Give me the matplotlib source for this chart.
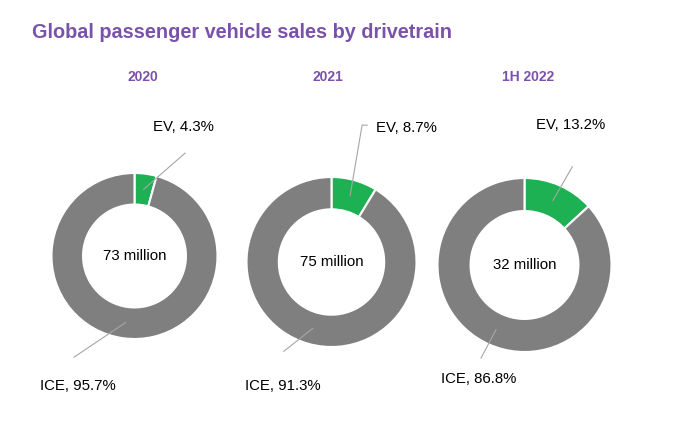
import numpy as np
import matplotlib.pyplot as plt

plt.rcParams['font.family'] = ['Liberation Sans', 'DejaVu Sans']

# data
years = ["2020", "2021", "1H 2022"]
totals = ["73 million", "75 million", "32 million"]
ev_share = [4.3, 8.7, 13.2]
ice_share = [95.7, 91.3, 86.8]

PURPLE = "#7B52AB"
GREEN = "#1DB154"
GREY = "#7F7F7F"
LEADER = "#A6A6A6"

W, H = 676, 423
fig = plt.figure(figsize=(W / 100, H / 100), dpi=100)
fig.patch.set_facecolor("white")

# layout in pixels: pie centre x, centre y, outer radius
layout = [(134.5, 256, 83), (331.5, 262, 85), (524.5, 265, 87)]
year_x = [142.5, 328, 528]

# label layout in units of outer radius: (line end, text pos)
ev_lab = [
    ([(0.61, 1.24)], (0.22, 1.55)),
    ([(0.36, 1.61), (0.42, 1.61)], (0.52, 1.58)),
    ([(0.55, 1.13)], (0.13, 1.61)),
]
ice_lab = [
    ([(-0.73, -1.22)], (-1.14, -1.57)),
    ([(-0.56, -1.05)], (-1.02, -1.46)),
    ([(-0.50, -1.07)], (-0.96, -1.31)),
]

ring = 0.38
k = 1.8

for i in range(3):
    cx, cy, R = layout[i]
    ax = fig.add_axes([(cx - k * R) / W, (H - cy - k * R) / H, 2 * k * R / W, 2 * k * R / H])
    vals = [ev_share[i], ice_share[i]]
    ax.pie(vals, colors=[GREEN, GREY], startangle=90, counterclock=False,
           radius=1, wedgeprops=dict(width=ring, edgecolor="white", linewidth=1.5))
    ax.set_xlim(-k, k)
    ax.set_ylim(-k, k)
    ax.axis("off")

    ax.text(0, 0, totals[i], ha="center", va="center", fontsize=10.8, color="black")

    # leader lines from ring middle at wedge middle angle
    rmid = 1 - ring / 2
    angs = [vals[0] / 200 * 360, (vals[0] + vals[1] / 2) / 100 * 360]
    labs = [(ev_lab[i], "EV, %.1f%%" % ev_share[i]), (ice_lab[i], "ICE, %.1f%%" % ice_share[i])]
    for a, (lab, txt) in zip(angs, labs):
        ends, tpos = lab
        t = np.deg2rad(a)
        xs = [rmid * np.sin(t)] + [p[0] for p in ends]
        ys = [rmid * np.cos(t)] + [p[1] for p in ends]
        ax.plot(xs, ys, color=LEADER, lw=0.8, clip_on=False)
        ax.text(tpos[0], tpos[1], txt, ha="left", va="center", fontsize=10.8, color="black")

    fig.text(year_x[i] / W, 1 - 77 / H, years[i], ha="center", va="center",
             fontsize=10, fontweight="bold", color=PURPLE)

fig.text(32 / W, 1 - 33 / H, "Global passenger vehicle sales by drivetrain",
         ha="left", va="center", fontsize=14.3, fontweight="bold", color=PURPLE)

fig.savefig("out.png", dpi=100, facecolor="white")
